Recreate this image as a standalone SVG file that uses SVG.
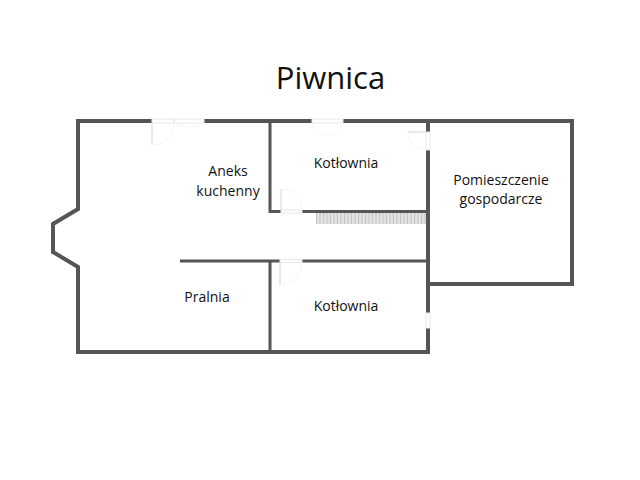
<svg xmlns="http://www.w3.org/2000/svg" width="640" height="480" viewBox="0 0 640 480">
<defs>
<style>
.w{fill:none;stroke:#555;stroke-width:4;stroke-linecap:square;stroke-linejoin:miter}
.i{fill:none;stroke:#555;stroke-width:3;stroke-linecap:butt}
.g{fill:#fff;stroke:#e8e8e8;stroke-width:1}
.d{fill:none;stroke:#d4d4d4;stroke-width:1}
.a{fill:none;stroke:#f6f6f6;stroke-width:1}
.s{fill:none;stroke:#c4c4c4;stroke-width:11}
text{font-family:"Open Sans",sans-serif;fill:#111;font-size:14px;text-anchor:middle}
</style>
</defs>
<rect width="640" height="480" fill="#fff"/>
<g id="walls">
<path class="w" d="M78 121H572V284H428M78 121V209L53 224V252L78 267V352H428V121"/>
<path class="i" d="M270 121V211.500H281M302 211.500H428M180 261H280M302 261H428M270 261V352"/>
</g>
<g id="stairs">
<rect x="316" y="213" width="110" height="11" fill="#e2e2e2"/>
<path class="s" stroke-dasharray="1 2.500" d="M316 218.500H426"/>
</g>
<g id="doors">
<rect class="g" x="152" y="119" width="52" height="4"/>
<path class="d" d="M174 119V123M152 123V145"/>
<path class="a" d="M152 145A22 22 0 0 0 174 123M174 123A30 30 0 0 0 204 123"/>
<rect class="g" x="312" y="119" width="31" height="4"/>
<path class="a" d="M312 123A16 16 0 0 0 343 123"/>
<rect class="g" x="426" y="132" width="4" height="18"/>
<path class="d" d="M408 132H426"/>
<path class="a" d="M408 132A18 18 0 0 0 426 150"/>
<rect class="g" x="281" y="210" width="21" height="3"/>
<path class="d" d="M281 189V210"/>
<path class="a" d="M281 189A21 21 0 0 1 302 210"/>
<rect class="g" x="280" y="259.500" width="22" height="3"/>
<path class="d" d="M280 262.500V285"/>
<path class="a" d="M280 285A22 22 0 0 0 302 262.500"/>
<rect class="g" x="426" y="313" width="4" height="15"/>
</g>
<g id="title"><text x="330.500" y="89" style="font-size:31px">Piwnica</text></g>
<g id="aneks"><text x="228" y="176">Aneks</text><text x="228" y="196">kuchenny</text></g>
<g id="kotlownia1"><text x="346" y="168">Kotłownia</text></g>
<g id="pomieszczenie"><text x="501" y="185">Pomieszczenie</text><text x="501" y="204">gospodarcze</text></g>
<g id="pralnia"><text x="207" y="302">Pralnia</text></g>
<g id="kotlownia2"><text x="346" y="311">Kotłownia</text></g>
</svg>
